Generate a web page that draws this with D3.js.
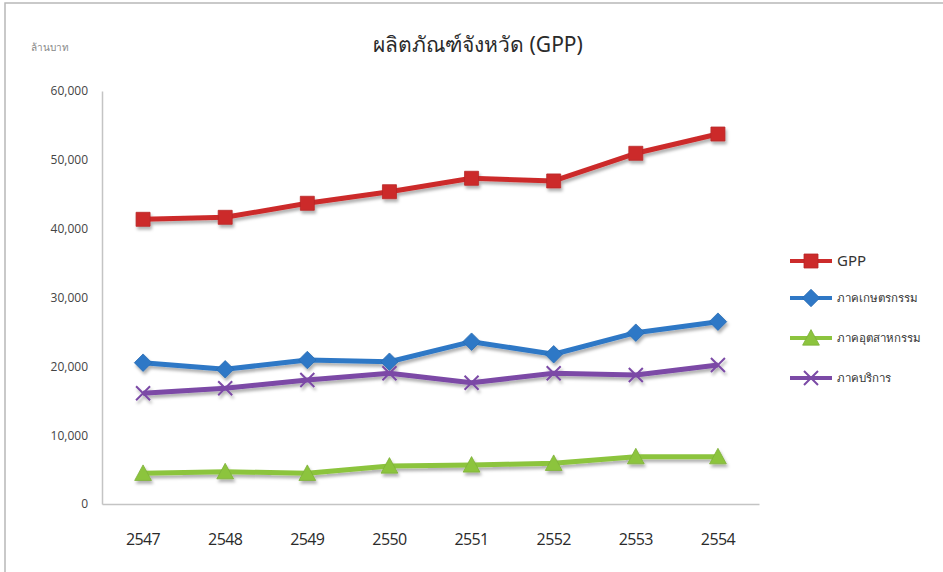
<!DOCTYPE html>
<html>
<head>
<meta charset="utf-8">
<script src="https://cdn.jsdelivr.net/npm/d3@7"></script>
<style>
  body { margin: 0; background: #fff; }
  text { font-family: 'Open Sans', 'Noto Sans', sans-serif; }
</style>
</head>
<body>
<script>
// canvas size
const width = 943;
const height = 572;

// data
const years = ['2547', '2548', '2549', '2550', '2551', '2552', '2553', '2554'];
const gpp = [41360, 41650, 43690, 45370, 47320, 46930, 50950, 53750];
const agriculture = [20530, 19570, 20920, 20670, 23580, 21750, 24890, 26490];
const industry = [4460, 4690, 4460, 5520, 5670, 5910, 6870, 6870];
const services = [16080, 16810, 18010, 18990, 17620, 18990, 18740, 20190];
const yTicks = [0, 10000, 20000, 30000, 40000, 50000, 60000];
const seriesNames = ['GPP', 'ภาคเกษตรกรรม', 'ภาคอุตสาหกรรม', 'ภาคบริการ'];

const series = [
  { name: seriesNames[0], values: gpp, color: '#cc2b2b', marker: 'square' },
  { name: seriesNames[1], values: agriculture, color: '#2f78c6', marker: 'diamond' },
  { name: seriesNames[2], values: industry, color: '#8cc43e', marker: 'triangle' },
  { name: seriesNames[3], values: services, color: '#7b4aa6', marker: 'x' }
];

// plot area
const plot = { left: 102, right: 759, top: 91, bottom: 504 };

const svg = d3
  .select('body')
  .append('svg')
  .attr('width', width)
  .attr('height', height);

// drop shadow like Excel
const defs = svg.append('defs');
const shadow = defs
  .append('filter')
  .attr('id', 'shadow')
  .attr('x', '-20%')
  .attr('y', '-20%')
  .attr('width', '140%')
  .attr('height', '160%');
shadow
  .append('feDropShadow')
  .attr('dx', 1.5)
  .attr('dy', 3)
  .attr('stdDeviation', 1.8)
  .attr('flood-color', '#000')
  .attr('flood-opacity', 0.3);

// frame
svg
  .append('path')
  .attr('d', 'M5,' + height + 'V3H' + width)
  .attr('fill', 'none')
  .attr('stroke', '#b8b8b8')
  .attr('stroke-width', 1.5);

// scales
const xScale = d3
  .scaleBand()
  .domain(years)
  .range([plot.left, plot.right]);

const yScale = d3
  .scaleLinear()
  .domain([0, 60000])
  .range([plot.bottom, plot.top]);

// y axis
const yAxis = d3
  .axisLeft(yScale)
  .tickValues(yTicks)
  .tickSize(0)
  .tickPadding(14)
  .tickFormat(d3.format(','));

const gy = svg
  .append('g')
  .attr('transform', 'translate(' + plot.left + ',0)')
  .call(yAxis);
gy.select('.domain').attr('stroke', '#c4c4c4').attr('stroke-width', 1.5);
gy.selectAll('text')
  .attr('fill', '#444')
  .style('font-size', '12px');

// x axis
const xAxis = d3.axisBottom(xScale).tickSize(0).tickPadding(30);
const gx = svg
  .append('g')
  .attr('transform', 'translate(0,' + plot.bottom + ')')
  .call(xAxis);
gx.select('.domain').attr('stroke', '#c4c4c4').attr('stroke-width', 1.5);
gx.selectAll('text')
  .attr('fill', '#2a2a2a')
  .style('font-size', '16px')
  .style('letter-spacing', '-0.6px');

// marker shapes
function markerPath(type, s) {
  if (type === 'square') {
    return 'M' + -s + ',' + -s + 'H' + s + 'V' + s + 'H' + -s + 'Z';
  }
  if (type === 'diamond') {
    const d = s * 1.25;
    return 'M0,' + -d + 'L' + d + ',0L0,' + d + 'L' + -d + ',0Z';
  }
  if (type === 'triangle') {
    const d = s * 1.2;
    return 'M0,' + -d + 'L' + d + ',' + d * 0.85 + 'L' + -d + ',' + d * 0.85 + 'Z';
  }
  return 'M' + -s + ',' + -s + 'L' + s + ',' + s + 'M' + s + ',' + -s + 'L' + -s + ',' + s;
}

function drawMarker(g, type, color) {
  if (type === 'x') {
    g.append('path')
      .attr('d', markerPath(type, 7))
      .attr('fill', 'none')
      .attr('stroke', color)
      .attr('stroke-width', 2);
  } else {
    g.append('path')
      .attr('d', markerPath(type, 7))
      .attr('fill', color)
      .attr('stroke', d3.color(color).darker(0.3))
      .attr('stroke-width', 0.8);
  }
}

// lines
const line = d3
  .line()
  .x(function(d, i) {
    return xScale(years[i]) + xScale.bandwidth() / 2;
  })
  .y(function(d) {
    return yScale(d);
  });

const seriesG = svg
  .selectAll('.series')
  .data(series)
  .enter()
  .append('g')
  .attr('class', 'series')
  .attr('filter', 'url(#shadow)');

seriesG
  .append('path')
  .attr('d', function(d) {
    return line(d.values);
  })
  .attr('fill', 'none')
  .attr('stroke', function(d) {
    return d.color;
  })
  .attr('stroke-width', 5)
  .attr('stroke-linejoin', 'round');

seriesG.each(function(s) {
  d3.select(this)
    .selectAll('.pt')
    .data(s.values)
    .enter()
    .append('g')
    .attr('class', 'pt')
    .attr('transform', function(d, i) {
      return 'translate(' + (xScale(years[i]) + xScale.bandwidth() / 2) + ',' + yScale(d) + ')';
    })
    .each(function() {
      drawMarker(d3.select(this), s.marker, s.color);
    });
});

// title
svg
  .append('text')
  .attr('x', 478)
  .attr('y', 52)
  .attr('text-anchor', 'middle')
  .attr('fill', '#2a2a2a')
  .style('font-size', '21px')
  .style('font-family', "'Noto Sans', sans-serif")
  .text('ผลิตภัณฑ์จังหวัด (GPP)');

// y axis unit
svg
  .append('text')
  .attr('x', 31)
  .attr('y', 51)
  .attr('fill', '#888')
  .style('font-size', '10px')
  .style('font-family', "'Noto Sans', sans-serif")
  .text('ล้านบาท');

// legend
const legendY = [261, 298, 338, 378];
const legend = svg
  .selectAll('.legend')
  .data(series)
  .enter()
  .append('g')
  .attr('class', 'legend')
  .attr('transform', function(d, i) {
    return 'translate(790,' + legendY[i] + ')';
  });

legend
  .append('line')
  .attr('x1', 0)
  .attr('x2', 42)
  .attr('stroke', function(d) {
    return d.color;
  })
  .attr('stroke-width', 4);

legend.each(function(d) {
  const g = d3.select(this).append('g').attr('transform', 'translate(21,0)');
  drawMarker(g, d.marker, d.color);
});

legend
  .append('text')
  .attr('x', 47)
  .attr('dy', '0.35em')
  .attr('fill', '#333')
  .style('font-family', "'Noto Sans', sans-serif")
  .style('font-size', function(d, i) {
    return i === 0 ? '15px' : '11.5px';
  })
  .text(function(d) {
    return d.name;
  });
</script>
</body>
</html>
